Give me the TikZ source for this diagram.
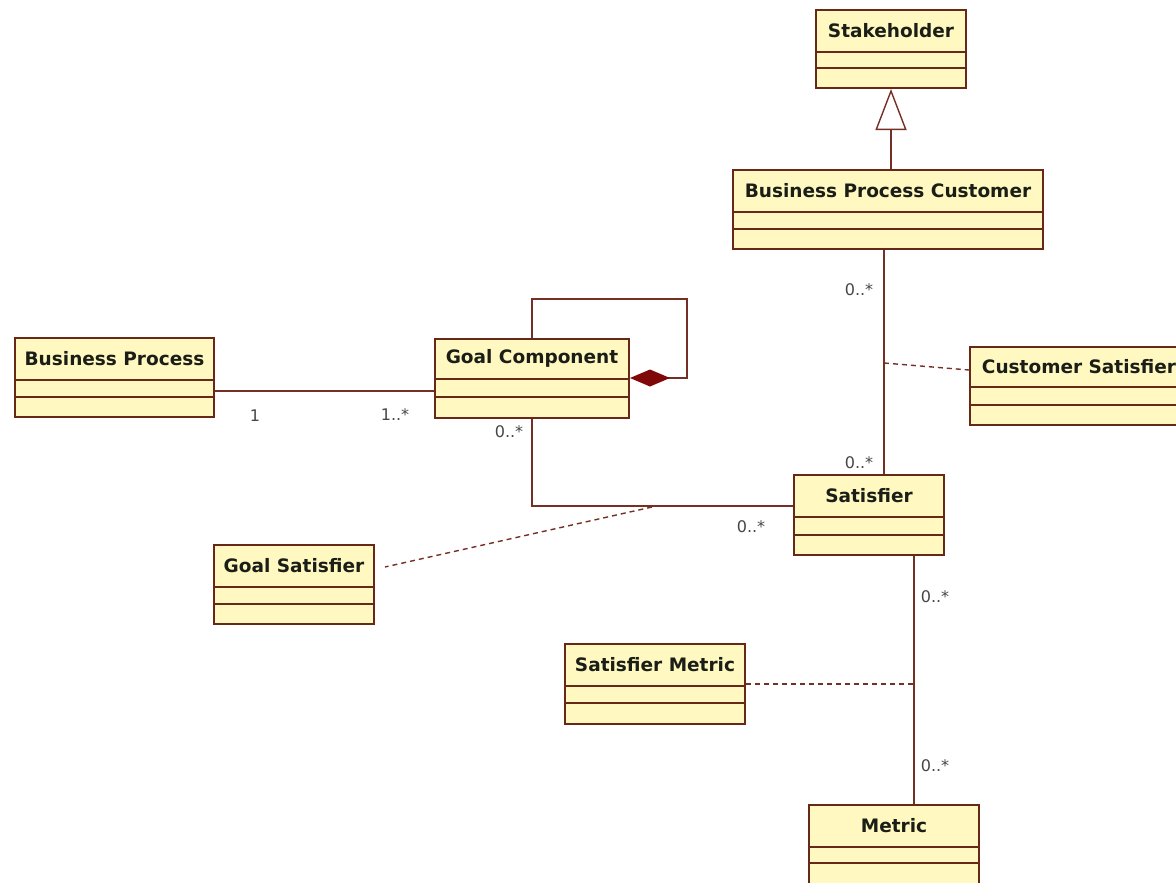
\documentclass[tikz,border=0pt]{standalone}
\usepackage{fontspec}
\setmainfont{DejaVu Sans}
\usetikzlibrary{arrows.meta,calc}

\definecolor{boxfill}{RGB}{255,248,192}
\definecolor{boxline}{RGB}{104,40,24}
\definecolor{wire}{RGB}{116,48,36}
\definecolor{diamondred}{RGB}{128,8,8}
\definecolor{titletext}{RGB}{26,30,22}
\definecolor{multtext}{RGB}{70,70,70}

\tikzset{
  classbox/.style={draw=boxline, fill=boxfill, line width=2pt, inner sep=0pt, anchor=north west},
  classtitle/.style={font=\bfseries\fontsize{18.5}{20}\selectfont, text=titletext, inner sep=0pt},
  divider/.style={draw=boxline, line width=1.8pt},
  assoc/.style={draw=wire, line width=1.8pt},
  linkdash/.style={draw=wire, line width=1.4pt, dash pattern=on 5pt off 4pt},
  mult/.style={font=\fontsize{16}{18}\selectfont, text=multtext, inner sep=0pt},
}

% class box: name, x1, y1, x2, y2, header bottom, divider, title
\newcommand\umlclass[8]{%
  \node[classbox, minimum width={(#4-#2)*1pt}, minimum height={(#5-#3)*1pt}] (#1) at (#2,#3) {};
  \path[divider] ($(#1.north west)+(0,#6-#3)$) -- ($(#1.north east)+(0,#6-#3)$);
  \path[divider] ($(#1.north west)+(0,#7-#3)$) -- ($(#1.north east)+(0,#7-#3)$);
  \node[classtitle] (#1-title) at ($(#1.north)!0.5!(#1.north |- 0,#6)$) {#8};
}

\begin{document}
\begin{tikzpicture}[x=1pt, y=-1pt]
\useasboundingbox (0,0) rectangle (1176,883);
\fill[white] (0,0) rectangle (1176,883);

% classes
\umlclass{sh}{815}{9}{965}{87}{52}{68}{Stakeholder}
\umlclass{bpc}{732}{169}{1042}{248}{212}{229}{Business Process Customer}
\umlclass{bp}{14}{337}{213}{416}{380}{397}{Business Process}
\umlclass{gc}{434}{338}{628}{417}{379}{397}{Goal Component}
\umlclass{cs}{969}{346}{1187}{424}{387}{405}{Customer Satisfier}
\umlclass{sat}{793}{474}{943}{554}{517}{535}{Satisfier}
\umlclass{gs}{213}{544}{373}{623}{587}{604}{Goal Satisfier}
\umlclass{sm}{564}{643}{744}{723}{686}{703}{Satisfier Metric}
\umlclass{met}{808}{804}{978}{884}{847}{863}{Metric}

% guide coordinates for connector positions
\coordinate (genx) at (891,0);
\coordinate (custx) at (884,0);
\coordinate (custmid) at (884,363);
\coordinate (bpy) at (0,391);
\coordinate (loopx) at (532,0);
\coordinate (loopne) at (687,299);
\coordinate (diay) at (0,378);
\coordinate (gsy) at (0,506);
\coordinate (gsmid) at (652,507);
\coordinate (metx) at (914,0);

% generalization
\draw[assoc, -{Triangle[open, length=41pt, width=31pt, line width=1.4pt]}, fill=white]
  (bpc.north -| genx) -- (sh.south -| genx);

% customer / satisfier association with its association class
\draw[assoc] (bpc.south -| custx) -- (sat.north -| custx);
\draw[linkdash] (custmid) -- ($(cs.north west)+(0,24)$);

% business process to goal component
\draw[assoc] (bp.east |- bpy) -- (gc.west |- bpy);

% goal component composition onto itself
\draw[assoc, -{Diamond[length=40pt, width=17pt, fill=diamondred, color=diamondred]}]
  (gc.north -| loopx) |- (loopne) |- (gc.east |- diay);

% goal component to satisfier
\draw[assoc] (gc.south -| loopx) |- (sat.west |- gsy);
\draw[linkdash] (gsmid) -- ($(gs.north east)+(10,23)$);

% satisfier to metric
\draw[assoc] (sat.south -| metx) -- (met.north -| metx);
\draw[linkdash] (sm.east) -- (sm.east -| metx);

% multiplicities
\node[mult] (m1) at (255,416) {1};
\node[mult] (m2) at (395,415) {1..*};
\node[mult] (m3) at (859,290) {0..*};
\node[mult] (m4) at (859,463) {0..*};
\node[mult] (m5) at (509,432) {0..*};
\node[mult] (m6) at (751,527) {0..*};
\node[mult] (m7) at (935,597) {0..*};
\node[mult] (m8) at (935,766) {0..*};
\end{tikzpicture}
\end{document}
